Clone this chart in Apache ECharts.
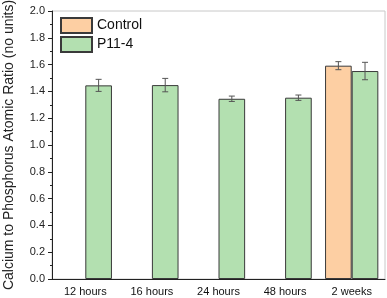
<!DOCTYPE html>
<html><head><meta charset="utf-8">
<script src="https://cdn.jsdelivr.net/npm/echarts@6/dist/echarts.min.js"></script>
<style>html,body{margin:0;padding:0;background:#fff}#c{width:387px;height:298px}</style>
</head><body><div id="c"></div>
<script>
var categories = ['12 hours', '16 hours', '24 hours', '48 hours', '2 weeks'];
var controlValues = [null, null, null, null, 1.592];
var controlErrors = [null, null, null, null, 0.03];
var p114Values = [1.445, 1.447, 1.345, 1.353, 1.552];
var p114Errors = [0.045, 0.05, 0.02, 0.02, 0.065];
var yTicks = [0, 0.2, 0.4, 0.6, 0.8, 1.0, 1.2, 1.4, 1.6, 1.8, 2.0];

var chart = echarts.init(document.getElementById('c'));
var font = 'Liberation Sans, Arial, sans-serif';

function errSeries(values, errors, side) {
  var data = [];
  values.forEach(function (v, i) { if (v != null) data.push([i, v, errors[i]]); });
  return {
    type: 'custom', xAxisIndex: 0, z: 10, silent: true,
    renderItem: function (params, api) {
      var i = api.value(0), v = api.value(1), e = api.value(2);
      var band = api.size([1, 0])[0];
      var off = side * band * 0.2;
      var hi = api.coord([i, v + e]), lo = api.coord([i, v - e]);
      var x = hi[0] + off, cap = 3;
      var st = { stroke: '#555', lineWidth: 1 };
      return { type: 'group', children: [
        { type: 'line', shape: { x1: x, y1: hi[1], x2: x, y2: lo[1] }, style: st },
        { type: 'line', shape: { x1: x - cap, y1: hi[1], x2: x + cap, y2: hi[1] }, style: st },
        { type: 'line', shape: { x1: x - cap, y1: lo[1], x2: x + cap, y2: lo[1] }, style: st }
      ]};
    },
    data: data
  };
}

chart.setOption({
  animation: false,
  grid: { left: 52, right: 2, top: 11, bottom: 19, outerBoundsMode: 'none', containLabel: false,
    show: true, borderColor: '#c8c8c8', borderWidth: 1 },
  legend: {
    left: 60, top: 17, padding: 0, orient: 'vertical', itemWidth: 31, itemHeight: 15, itemGap: 2,
    icon: 'rect',
    textStyle: { fontFamily: font, fontSize: 14, color: '#111' },
    data: ['Control', 'P11-4']
  },
  xAxis: [{
    type: 'category', data: categories,
    axisLine: { lineStyle: { color: '#222' } },
    axisTick: { alignWithLabel: true, length: 4, lineStyle: { color: '#222' } },
    axisLabel: { fontFamily: font, fontSize: 11, color: '#111', margin: 7 }
  }, {
    type: 'category', data: categories, position: 'bottom',
    axisLine: { show: false },
    axisTick: { length: 4, lineStyle: { color: '#222' } },
    axisLabel: { show: false }
  }],
  yAxis: {
    type: 'value', min: 0, max: 2.0, interval: 0.2,
    name: 'Calcium to Phosphorus Atomic Ratio (no units)',
    nameLocation: 'middle', nameGap: 36,
    nameTextStyle: { fontFamily: font, fontSize: 14, color: '#222' },
    axisLine: { show: true, lineStyle: { color: '#222' } },
    axisTick: { show: true, length: 4, lineStyle: { color: '#222' } },
    minorTick: { show: true, splitNumber: 2, length: 2, lineStyle: { color: '#222' } },
    splitLine: { show: false },
    axisLabel: { fontFamily: font, fontSize: 11, color: '#222', margin: 7,
      formatter: function (v) { return v.toFixed(1); } }
  },
  series: [{
    name: 'Control', type: 'bar', data: controlValues, barWidth: '40%', barGap: '0%',
    itemStyle: { color: '#fdcfa3', borderColor: '#3a3a3a', borderWidth: 1, borderRadius: 0 }
  }, {
    name: 'P11-4', type: 'bar', data: p114Values, barWidth: '40%', barGap: '0%',
    itemStyle: { color: '#b3e0b0', borderColor: '#3a3a3a', borderWidth: 1, borderRadius: 0 }
  },
  errSeries(controlValues, controlErrors, -1),
  errSeries(p114Values, p114Errors, 1)
  ]
});
</script></body></html>
